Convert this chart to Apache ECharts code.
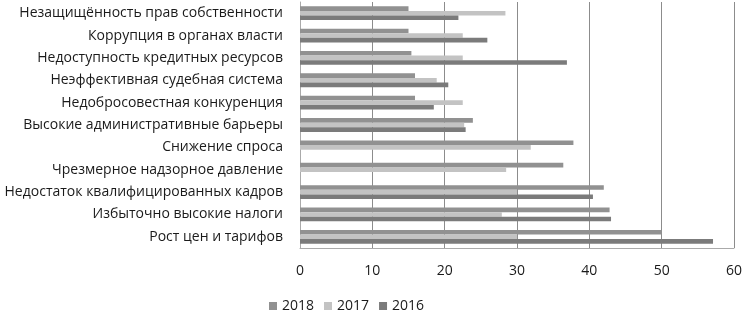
<!DOCTYPE html>
<html>
<head>
<meta charset="utf-8">
<script src="https://cdn.jsdelivr.net/npm/echarts@6/dist/echarts.min.js"></script>
<style>
html, body { margin: 0; padding: 0; background: #fff; }
#chart { width: 745px; height: 314px; }
</style>
</head>
<body>
<div id="chart"></div>
<script>
// категории снизу вверх
var categories = ['Рост цен и тарифов', 'Избыточно высокие налоги', 'Недостаток квалифицированных кадров',
	'Чрезмерное надзорное давление', 'Снижение спроса', 'Высокие административные барьеры',
	'Недобросовестная конкуренция', 'Неэффективная судебная система', 'Недоступность кредитных ресурсов',
	'Коррупция в органах власти', 'Незащищённость прав собственности'];
var years = ['2018', '2017', '2016'];
var v2018 = [50, 42.8, 42, 36.4, 37.8, 23.9, 15.9, 15.9, 15.4, 15, 15];
var v2017 = [30, 27.9, 30, 28.5, 31.9, 22.7, 22.5, 18.9, 22.5, 22.5, 28.4];
var v2016 = [57.1, 43, 40.5, 0, 0, 22.9, 18.5, 20.5, 36.9, 25.9, 21.9];
var xTicks = [0, 60, 10];

var colors = { '2018': '#919191', '2017': '#c3c3c3', '2016': '#7b7b7b' };

var myChart = echarts.init(document.getElementById('chart'));

function bar(name, data) {
	return {
		name: name,
		type: 'bar',
		data: data,
		barWidth: 4.6,
		barGap: '0%',
		itemStyle: { color: colors[name] }
	};
}

var option = {
	animation: false,
	textStyle: { fontFamily: 'Open Sans', color: '#1a1a1a' },
	grid: { left: 300, right: 8, top: 2, bottom: 66 },
	legend: {
		data: years,
		top: 294,
		left: 264,
		itemWidth: 8,
		itemHeight: 8,
		itemGap: 10,
		icon: 'rect',
		textStyle: { fontSize: 14, color: '#1a1a1a' }
	},
	xAxis: {
		type: 'value',
		min: xTicks[0],
		max: xTicks[1],
		interval: xTicks[2],
		axisLine: { show: true, lineStyle: { color: '#aaa' } },
		axisTick: { show: false },
		axisLabel: { fontSize: 14, color: '#1a1a1a', margin: 16 },
		splitLine: { show: true, lineStyle: { color: '#8c8c8c', width: 1 } }
	},
	yAxis: {
		type: 'category',
		data: categories,
		axisLine: { show: true, lineStyle: { color: '#aaa' } },
		axisTick: { show: false },
		axisLabel: { fontSize: 14, color: '#1a1a1a', margin: 17, interval: 0 }
	},
	// серия 0 рисуется сверху группы
	series: [bar('2018', v2018), bar('2017', v2017), bar('2016', v2016)]
};

myChart.setOption(option);
</script>
</body>
</html>
